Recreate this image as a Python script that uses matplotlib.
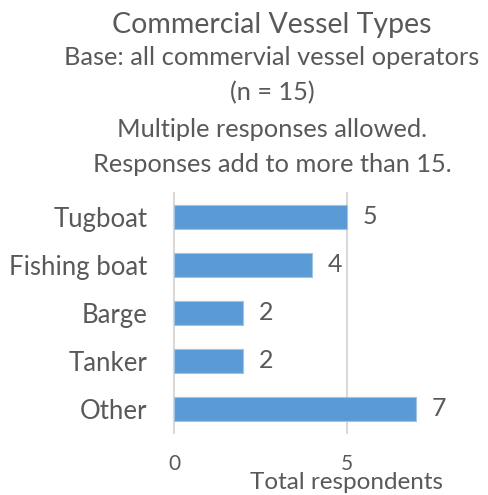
import matplotlib.pyplot as plt

# chart data
categories = ["Tugboat", "Fishing boat", "Barge", "Tanker", "Other"]
respondents = [5, 4, 2, 2, 7]
x_ticks = [0, 5]

title = "Commercial Vessel Types"
subtitle_lines = [
    "Base: all commervial vessel operators",
    "(n = 15)",
    "Multiple responses allowed.",
    "Responses add to more than 15.",
]

TEXT = "#595959"
BLUE = "#5B9BD5"
GRID = "#D9D9D9"

plt.rcParams["font.family"] = ["Lato", "DejaVu Sans"]

fig = plt.figure(figsize=(4.88, 4.95), dpi=100)
ax = fig.add_axes([174 / 488, 62 / 495, 346 / 488, 240 / 495])

y = list(range(len(categories)))
bars = ax.barh(y, respondents, height=0.48, color=BLUE, edgecolor="#9DC3E6",
               linewidth=0.8, zorder=3)
ax.bar_label(bars, padding=11, fontsize=18, color=TEXT)

ax.set_yticks(y)
ax.set_yticklabels(categories)
ax.set_ylim(len(categories) - 0.5, -0.5)
ax.set_xlim(0, 10)
ax.set_xticks(x_ticks)

ax.tick_params(axis="y", length=0, pad=19, labelsize=18.5, labelcolor=TEXT)
ax.tick_params(axis="x", length=0, pad=15, labelsize=15, labelcolor=TEXT)
ax.set_xlabel("Total respondents", fontsize=17.5, color=TEXT, labelpad=-1.5)

for s in ax.spines.values():
    s.set_visible(False)
ax.grid(axis="x", color=GRID, linewidth=1.5, zorder=0)
for gl in ax.get_xgridlines():
    gl.set_clip_on(False)

# title block
cx = 272 / 488
fig.text(cx, 1 - 33 / 495, title, ha="center", va="baseline",
         fontsize=20.5, color=TEXT)
baselines = [65, 100, 137, 172]
for line, b in zip(subtitle_lines, baselines):
    fig.text(cx, 1 - b / 495, line, ha="center", va="baseline",
             fontsize=18.3, color=TEXT)

fig.savefig("out.png", dpi=100)
